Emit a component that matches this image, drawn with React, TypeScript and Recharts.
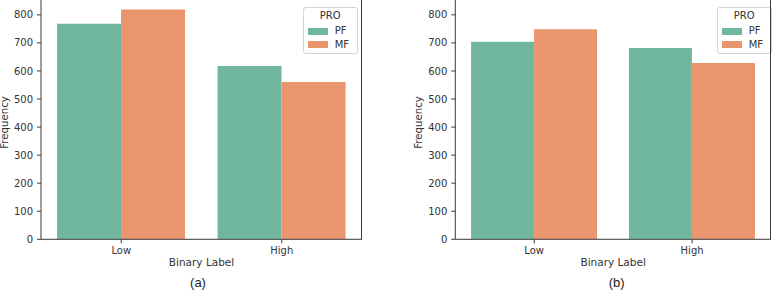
import React from 'react';
import { BarChart, Bar, XAxis, YAxis, Legend } from 'recharts';

const categories = ['Low', 'High'];
const seriesNames = ['PF', 'MF'];
const seriesColors = ['#71b7a0', '#e9966f'];
const pfA = [768, 618];
const mfA = [819, 561];
const pfB = [704, 682];
const mfB = [749, 628];
const yTicks = [0, 100, 200, 300, 400, 500, 600, 700, 800];
const legendTitle = 'PRO';
const xLabel = 'Binary Label';
const yLabel = 'Frequency';
const captions = ['(a)', '(b)'];

const buildData = (pf: number[], mf: number[]) =>
  categories.map((c, i) => ({ label: c, [seriesNames[0]]: pf[i], [seriesNames[1]]: mf[i] }));

const dataA = buildData(pfA, mfA);
const dataB = buildData(pfB, mfB);

const FONT = '"DejaVu Sans", sans-serif';
const TEXT = '#333333';
const SPINE = '#3a3a3a';

const LegendBox = (props: any) => {
  const payload = (props.payload || [])
    .filter((a: any) => seriesNames.includes(a.value))
    .sort((a: any, b: any) => seriesNames.indexOf(a.value) - seriesNames.indexOf(b.value));
  return (
    <div
      style={{
        width: 55,
        height: 47,
        boxSizing: 'border-box',
        border: '1px solid #d4d4d4',
        borderRadius: 3,
        background: 'rgba(255,255,255,0.85)',
        fontFamily: FONT,
        fontSize: 10,
        color: TEXT,
        position: 'relative',
      }}
    >
      <div style={{ position: 'absolute', top: 2, left: 0, width: '100%', textAlign: 'center', lineHeight: '12px', color: TEXT }}>
        {legendTitle}
      </div>
      {payload.map((p: any, i: number) => (
        <div key={p.value} style={{ position: 'absolute', top: 17 + i * 13.3, left: 4, height: 12, display: 'flex', alignItems: 'center' }}>
          <div style={{ width: 20, height: 7, background: p.color }} />
          <span style={{ marginLeft: 7, lineHeight: '12px', color: TEXT }}>{p.value}</span>
        </div>
      ))}
    </div>
  );
};

type PanelProps = {
  data: any[];
  left: number;
  width: number;
  marginRight: number;
  yAxisWidth: number;
  yLabelX: number;
  legendLeft: number;
  caption: string;
  captionX: number;
};

const Panel = (p: PanelProps) => {
  const chartTop = -10;
  const height = 304;
  const marginTop = 8;
  const xAxisHeight = 30;
  const marginBottom = 24.7;
  const plotBottom = height - marginBottom - xAxisHeight;
  return (
    <div style={{ position: 'absolute', left: p.left, top: chartTop, width: p.width, height }}>
      <BarChart
        width={p.width}
        height={height}
        data={p.data}
        margin={{ top: marginTop, right: p.marginRight, bottom: marginBottom, left: 0 }}
        barCategoryGap="10%"
        barGap={0}
      >
        <XAxis
          dataKey="label"
          height={xAxisHeight}
          tickSize={4}
          tickMargin={3.5}
          stroke={SPINE}
          tick={{ fill: TEXT, fontSize: 10, fontFamily: FONT }}
          tickLine={{ stroke: SPINE }}
          axisLine={{ stroke: SPINE }}
          label={(lp: any) => {
            const vb = lp.viewBox || {};
            return (
              <text
                x={(vb.x || 0) + (vb.width || 0) / 2}
                y={275.5}
                textAnchor="middle"
                fontSize={10.5}
                fontFamily={FONT}
                fill={TEXT}
              >
                {xLabel}
              </text>
            );
          }}
        />
        <YAxis
          yAxisId="l"
          width={p.yAxisWidth}
          domain={[0, 860]}
          ticks={yTicks}
          interval={0}
          allowDataOverflow
          tickSize={4}
          tickMargin={4}
          stroke={SPINE}
          tick={{ fill: TEXT, fontSize: 10, fontFamily: FONT }}
          tickLine={{ stroke: SPINE }}
          axisLine={{ stroke: SPINE }}
          label={() => (
            <text
              transform={`translate(${p.yLabelX}, ${132.5}) rotate(-90)`}
              textAnchor="middle"
              dy="0.25em"
              fontSize={10.2}
              fontFamily={FONT}
              fill={TEXT}
            >
              {yLabel}
            </text>
          )}
        />
        <Legend
          content={<LegendBox />}
          layout="horizontal"
          verticalAlign="middle"
          align="center"
          wrapperStyle={{ position: 'absolute', left: p.legendLeft, top: 17.3, width: 55, height: 47 }}
        />
        {seriesNames.map((s, i) => (
          <Bar key={s} yAxisId="l" dataKey={s} name={s} fill={seriesColors[i]} isAnimationActive={false} />
        ))}
      </BarChart>
      <div
        style={{
          position: 'absolute',
          left: Math.round(p.width - p.marginRight) - 1,
          top: marginTop,
          width: 1,
          height: Math.round(plotBottom - marginTop),
          background: SPINE,
          zIndex: 5,
        }}
      />
      <div
        style={{
          position: 'absolute',
          left: p.captionX - 30,
          width: 60,
          top: 283 - chartTop - 9,
          textAlign: 'center',
          fontFamily: '"Liberation Sans", sans-serif',
          fontSize: 13,
          lineHeight: '18px',
          color: '#222',
        }}
      >
        {p.caption}
      </div>
    </div>
  );
};

export default function App() {
  return (
    <div style={{ position: 'absolute', left: 0, top: 0, width: 778, height: 294, overflow: 'hidden', background: '#fff' }}>
      <Panel
        data={dataA}
        left={0}
        width={389}
        marginRight={27}
        yAxisWidth={41}
        yLabelX={5.5}
        legendLeft={302.7}
        caption={captions[0]}
        captionX={198}
      />
      <Panel
        data={dataB}
        left={390}
        width={388}
        marginRight={7}
        yAxisWidth={65.3}
        yLabelX={29.7}
        legendLeft={326.7}
        caption={captions[1]}
        captionX={226.7}
      />
    </div>
  );
}
